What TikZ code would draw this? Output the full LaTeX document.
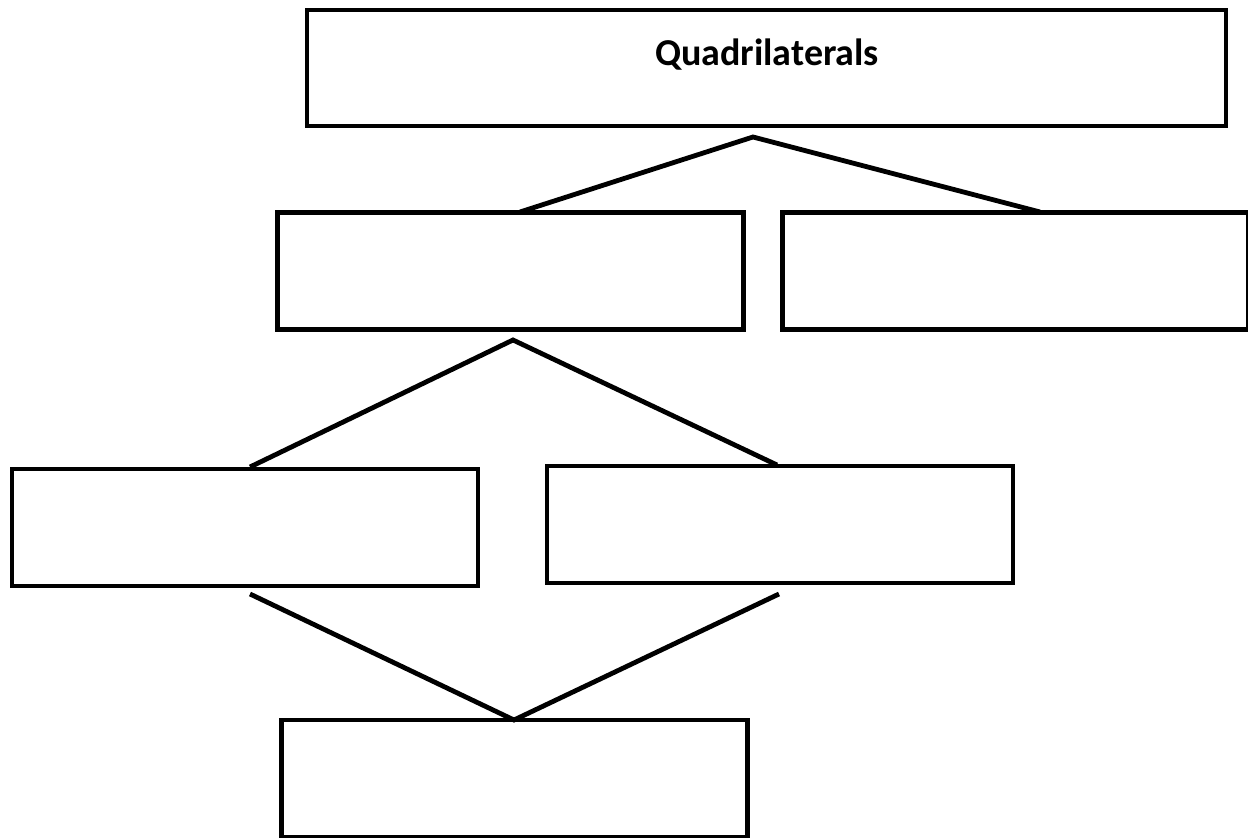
\documentclass[tikz,border=0pt]{standalone}
\usepackage{fontspec}
\setmainfont{Carlito}
\begin{document}
\begin{tikzpicture}[x=0.5pt,y=-0.5pt,
	box/.style={draw, line width=2.4pt, inner sep=0pt, minimum width=233pt, minimum height=58.5pt},
	link/.style={line width=2.4pt}]
				\useasboundingbox (0,0) rectangle (1248,838);
				\clip (0,0) rectangle (1248,838);

				\node[box, minimum width=459.5pt, minimum height=58pt] (quad) at (766.5,68) {};
				\node[anchor=base, font=\fontsize{19}{22}\selectfont\bfseries] (title) at (767,66) {Quadrilaterals};

				\node[box] (midL) at (510.5,271) {};
				\node[box] (midR) at (1015.5,271) {};
				\node[box] (lowL) at (245,527.5) {};
				\node[box] (lowR) at (780,524.5) {};
				\node[box] (bot) at (514.5,778.5) {};

				\coordinate (topApex) at (753,137);
				\coordinate (midApex) at (513,340);
				\coordinate (botApex) at (514,720);
				\coordinate (midLin) at (520,212);
				\coordinate (midRin) at (1040,212);
				\coordinate (lowLin) at (250,467);
				\coordinate (lowRin) at (777,465);
				\coordinate (lowLout) at (250,594);
				\coordinate (lowRout) at (779,594);

				\draw[link] (midLin) -- (topApex) -- (midRin);
				\draw[link] (lowLin) -- (midApex) -- (lowRin);
				\draw[link] (lowLout) -- (botApex) -- (lowRout);
			\end{tikzpicture}
\end{document}
